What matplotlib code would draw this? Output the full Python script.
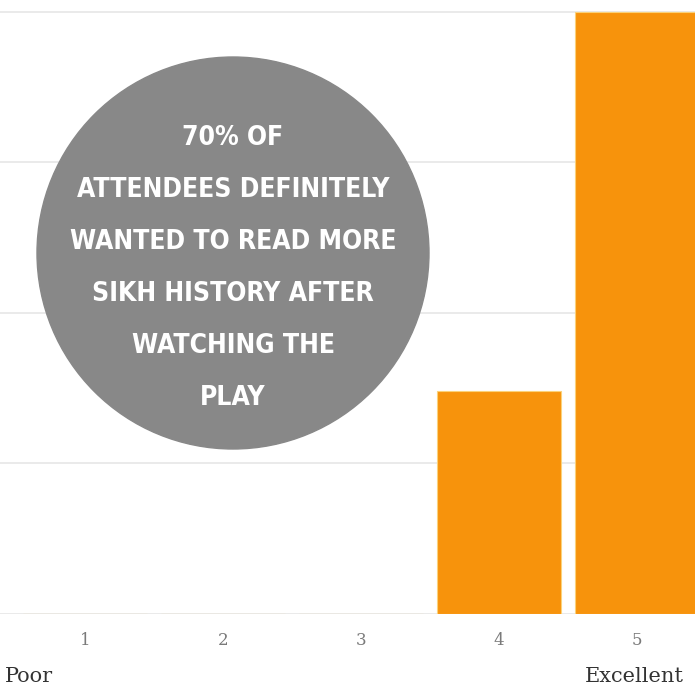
import matplotlib.pyplot as plt
from matplotlib.patches import Circle

# ratings 1-5 and number of attendees
ratings = [1, 2, 3, 4, 5]
counts = [0, 0, 0, 7.4, 20]
grid_vals = [0, 5, 10, 15, 20]
callout = "70% OF\nATTENDEES DEFINITELY\nWANTED TO READ MORE\nSIKH HISTORY AFTER\nWATCHING THE\nPLAY"

fig = plt.figure(figsize=(6.95, 6.84), dpi=100)
ax = fig.add_axes([0, 70 / 684, 1, 614 / 684])

for g in grid_vals:
    ax.axhline(g, color="#e6e6e6", lw=1.2, zorder=0)

ax.bar(ratings, counts, width=0.9, color="#f7930c", edgecolor="#fbd27a", lw=0.8, zorder=2)

ax.set_xlim(1 - 85 / 138, 1 + 610 / 138)
ax.set_ylim(0, 20 + 12 * 5 / 151)
ax.set_xticks(ratings)
ax.set_xticklabels([str(r) for r in ratings], family="DejaVu Serif", fontsize=12, color="#7a7a7a")
ax.tick_params(axis="x", length=0, pad=13)
ax.set_yticks([])
for s in ax.spines.values():
    s.set_visible(False)

fig.text(5 / 695, 1 - 676 / 684, "Poor", family="DejaVu Serif", fontsize=15, color="#333333", va="center")
fig.text(585 / 695, 1 - 676 / 684, "Excellent", family="DejaVu Serif", fontsize=15, color="#333333", va="center")

# grey callout bubble
circ = Circle((2.33, 6.84 - 2.53), 1.96, transform=fig.dpi_scale_trans, color="#888888", zorder=5)
fig.patches.append(circ)
fig.text(233 / 695, 1 - 268 / 684, callout, ha="center", va="center", color="white",
         family="DejaVu Sans", fontstretch="condensed", fontweight="bold", fontsize=19,
         linespacing=2.3, zorder=6)

fig.savefig("out.png", dpi=100)
